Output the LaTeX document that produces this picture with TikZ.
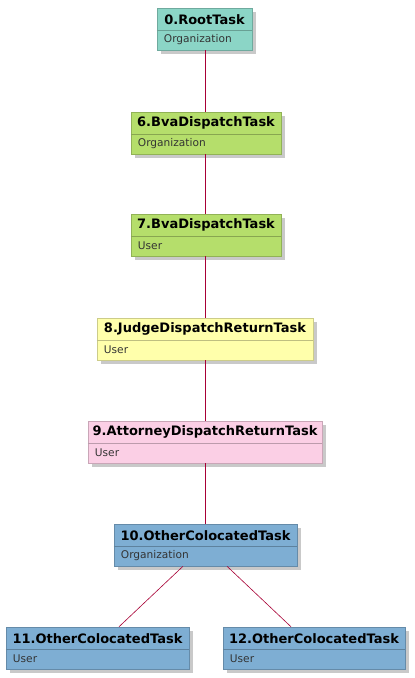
\documentclass[tikz,border=0pt]{standalone}
\usepackage{fontspec}
\setmainfont{DejaVu Sans}
\usetikzlibrary{shadows,calc}
\definecolor{cteal}{RGB}{139,213,198}
\definecolor{cgreen}{RGB}{181,222,107}
\definecolor{cyellow}{RGB}{255,255,171}
\definecolor{cpink}{RGB}{251,207,229}
\definecolor{cblue}{RGB}{126,174,211}
\definecolor{linkc}{RGB}{168,0,54}
\tikzset{
  tbox/.style={draw=#1!80!black, fill=#1, line width=0.5pt, rectangle, minimum height=42pt, inner sep=0pt,
    drop shadow={shadow xshift=3.5pt, shadow yshift=-3.5pt, opacity=0.35, fill=black!60}},
  ttl/.style={font=\bfseries\fontsize{13}{15}\selectfont, inner sep=0pt, text=black},
  att/.style={font=\fontsize{10.6}{12}\selectfont, inner sep=0pt, anchor=west, text=black!80},
  link/.style={draw=linkc, line width=0.6pt},
}
% name, cx, top, width, color, title, attribute
\newcommand\taskbox[7]{%
  \node[tbox=#5, minimum width=#4] (#1) at (#2,#3+21) {};
  \draw[draw=#5!75!black, line width=0.5pt] ($(#1.north west)+(0,22)$) -- ($(#1.north east)+(0,22)$);
  \node[ttl] (#1t) at ($(#1.north)+(0,11.5)$) {#6};
  \node[att] (#1a) at ($(#1.north west)+(7,32)$) {#7};
}
\begin{document}
\begin{tikzpicture}[x=1pt,y=-1pt]
\useasboundingbox (0,0) rectangle (415,678);
\fill[white] (0,0) rectangle (415,678);
\taskbox{n0}{204.5}{8}{95}{cteal}{0.RootTask}{Organization}
\taskbox{n6}{206}{112}{150}{cgreen}{6.BvaDispatchTask}{Organization}
\taskbox{n7}{206}{214}{150}{cgreen}{7.BvaDispatchTask}{User}
\taskbox{n8}{205}{318}{216}{cyellow}{8.JudgeDispatchReturnTask}{User}
\taskbox{n9}{205}{421}{234}{cpink}{9.AttorneyDispatchReturnTask}{User}
\taskbox{n10}{205.5}{524}{183}{cblue}{10.OtherColocatedTask}{Organization}
\taskbox{n11}{97.5}{627}{183}{cblue}{11.OtherColocatedTask}{User}
\taskbox{n12}{314}{627}{182}{cblue}{12.OtherColocatedTask}{User}
\draw[link] (n0.south -| 205,0) -- (n6.north -| 205,0);
\draw[link] (n6.south -| 205,0) -- (n7.north -| 205,0);
\draw[link] (n7.south -| 205,0) -- (n8.north -| 205,0);
\draw[link] (n8.south -| 205,0) -- (n9.north -| 205,0);
\draw[link] (n9.south -| 205,0) -- (n10.north -| 205,0);
\draw[link] ($(n10.south)+(-22.5,0)$) -- ($(n11.north)+(21.5,0)$);
\draw[link] ($(n10.south)+(21.5,0)$) -- ($(n12.north)+(-23,0)$);
\end{tikzpicture}
\end{document}
